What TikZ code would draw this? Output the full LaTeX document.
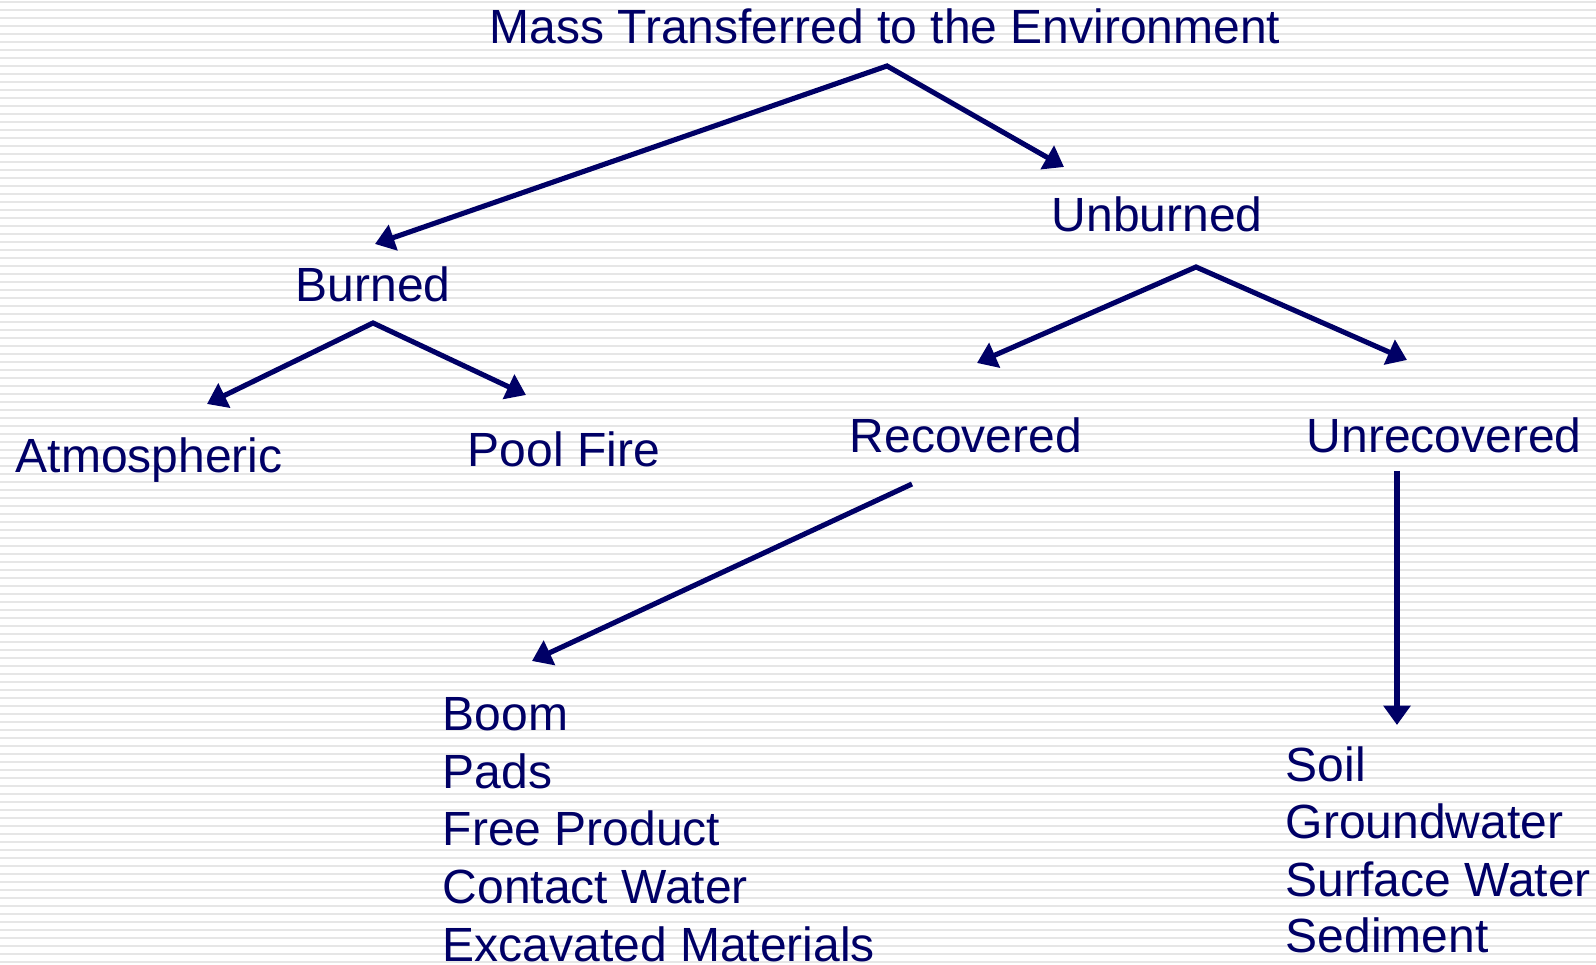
\documentclass[tikz,border=0pt]{standalone}
\usepackage{fontspec}
\setmainfont{Liberation Sans}
\usetikzlibrary{arrows.meta}
\definecolor{navy}{RGB}{0,0,102}
\definecolor{stripe}{RGB}{230,230,230}

\begin{document}
\begin{tikzpicture}[x=0.01cm,y=-0.01cm,
        >={Triangle[length=5.5pt,width=7.5pt]},
        lbl/.style={anchor=base west,inner sep=0pt,text=navy,font=\fontsize{13.65}{16}\selectfont},
        branch/.style={draw=navy,line width=1.45pt}]
        \useasboundingbox (0,0) rectangle (1596,965);
        \fill[white] (0,0) rectangle (1596,965);
        \foreach \k in {0,...,120}
            \draw[stripe,line width=0.6pt] (0,1.7+8*\k) -- (1596,1.7+8*\k);

        \node[lbl] (mass) at (489,44) {Mass Transferred to the Environment};
        \node[lbl] (unburned) at (1051,232) {Unburned};
        \node[lbl] (burned) at (295,302) {Burned};
        \node[lbl] (atmos) at (15,473) {Atmospheric};
        \node[lbl] (pool) at (467,467) {Pool Fire};
        \node[lbl] (recovered) at (849,453) {Recovered};
        \node[lbl] (unrecovered) at (1306,453) {Unrecovered};

        \node[lbl] (boom) at (442,731) {Boom};
        \node[lbl] (pads) at (442,788.5) {Pads};
        \node[lbl] (freeprod) at (442,846) {Free Product};
        \node[lbl] (contact) at (442,904) {Contact Water};
        \node[lbl] (excav) at (442,962) {Excavated Materials};

        \node[lbl] (soil) at (1285,782) {Soil};
        \node[lbl] (ground) at (1285,839) {Groundwater};
        \node[lbl] (surface) at (1285,897) {Surface Water};
        \node[lbl] (sediment) at (1285,953) {Sediment};

        \coordinate (mass-fork) at (887,66);
        \coordinate (burned-tip) at (375,244);
        \coordinate (unburned-tip) at (1064,167);
        \coordinate (burned-fork) at (373,323);
        \coordinate (atmos-tip) at (207,404);
        \coordinate (pool-tip) at (526,395);
        \coordinate (unburned-fork) at (1196,267);
        \coordinate (recovered-tip) at (977,363);
        \coordinate (unrecovered-tip) at (1407,360);
        \coordinate (recovered-out) at (912,484);
        \coordinate (collected-tip) at (532,661);
        \coordinate (unrecovered-out) at (1397,471);
        \coordinate (media-tip) at (1397,725);

        \draw[branch,<->] (burned-tip) -- (mass-fork) -- (unburned-tip);
        \draw[branch,<->] (atmos-tip) -- (burned-fork) -- (pool-tip);
        \draw[branch,<->] (recovered-tip) -- (unburned-fork) -- (unrecovered-tip);
        \draw[branch,->] (recovered-out) -- (collected-tip);
        \draw[branch,->] (unrecovered-out) -- (media-tip);

    \end{tikzpicture}
\end{document}
